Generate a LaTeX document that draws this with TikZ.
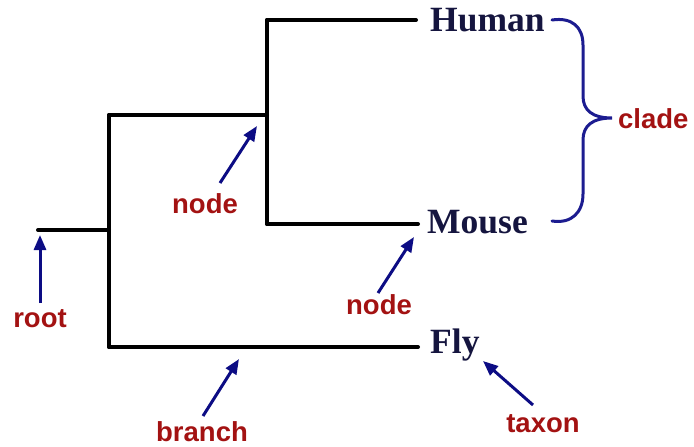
\documentclass[tikz,border=0pt]{standalone}
\usepackage{fontspec}
\setmainfont{Liberation Serif}
\newfontfamily\lblfont{Liberation Sans}
\usetikzlibrary{arrows.meta}
\definecolor{taxcol}{HTML}{15153F}
\definecolor{lblred}{HTML}{A31212}
\definecolor{arrnavy}{HTML}{0C0C84}
\definecolor{bracecol}{HTML}{1C1C90}
\tikzset{
  tree/.style={line width=4pt, black, line cap=round, line join=round},
  taxon/.style={font=\fontsize{35.5}{35.5}\selectfont\bfseries, text=taxcol, inner sep=0pt, anchor=west},
  lbl/.style={font=\lblfont\fontsize{27.5}{27.5}\selectfont\bfseries, text=lblred, inner sep=0pt},
  pointer/.style={line width=3pt, arrnavy, -{Triangle[length=15pt,width=12pt]}, shorten >=0pt, shorten <=0pt},
  bracestyle/.style={line width=3pt, bracecol, line cap=round}
}
\begin{document}
\begin{tikzpicture}[x=1pt,y=-1pt]
\useasboundingbox (0,0) rectangle (694,447);
% tree coordinates
\coordinate (rootend) at (38,230);
\coordinate (n0) at (109,230);
\coordinate (n0top) at (109,115);
\coordinate (n0bot) at (109,347);
\coordinate (n1) at (267,115);
\coordinate (n1top) at (267,20);
\coordinate (n1bot) at (267,224);
\coordinate (hend) at (416,20);
\coordinate (mend) at (418,224);
\coordinate (fend) at (418,347);
% taxa
\node[taxon] (human) at (430,20) {Human};
\node[taxon] (mouse) at (427,222) {Mouse};
\node[taxon] (fly) at (430,345) {Fly};
% tree lines
\draw[tree] (rootend) -- (n0);
\draw[tree] (n0top) -- (n0bot);
\draw[tree] (n0top) -- (n1);
\draw[tree] (n1top) -- (n1bot);
\draw[tree] (n1top) -- (hend);
\draw[tree] (n1bot) -- (mend);
\draw[tree] (n0bot) -- (fend);
% brace
\coordinate (btop) at (552,20);
\coordinate (bbot) at (552,221);
\coordinate (btip) at (612,118);
\draw[bracestyle] (btop) .. controls (572,17) and (583,27) .. (583,45)
  -- (583,96) .. controls (583,110) and (592,118) .. (btip)
  .. controls (592,118) and (583,126) .. (583,140)
  -- (583,194) .. controls (583,212) and (572,224) .. (bbot);
\node[lbl, anchor=west] (clade) at (618,119) {clade};
% labels and pointers
\node[lbl] (rootlbl) at (40,319) {root};
\coordinate (roottip) at (40,235);
\draw[pointer] (40,303) -- (roottip);

\node[lbl] (node1) at (205,204) {node};
\coordinate (node1tip) at (257,126);
\draw[pointer] (220,183) -- (node1tip);

\node[lbl] (node2) at (379,305) {node};
\coordinate (node2tip) at (414,237);
\draw[pointer] (378,293) -- (node2tip);

\node[lbl] (branch) at (202,432) {branch};
\coordinate (branchtip) at (239,359);
\draw[pointer] (203,416) -- (branchtip);

\node[lbl] (taxonlbl) at (543,424) {taxon};
\coordinate (taxontip) at (483,361);
\draw[pointer] (533,405) -- (taxontip);
\end{tikzpicture}
\end{document}
